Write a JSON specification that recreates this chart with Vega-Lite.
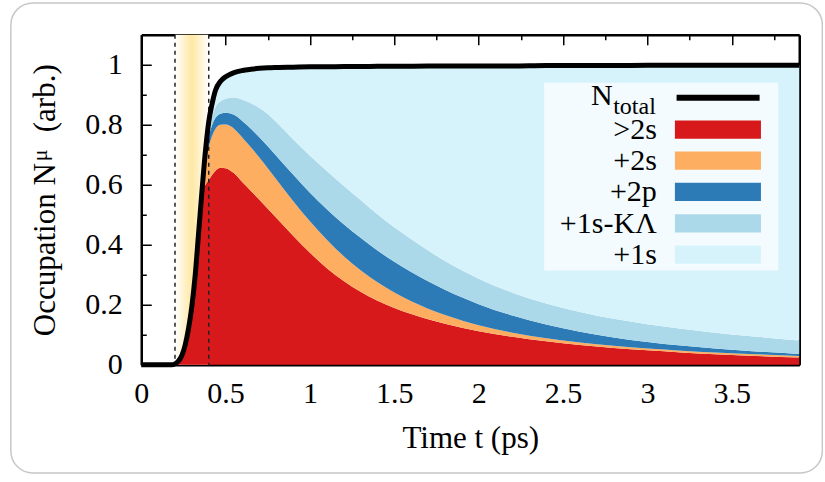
{
  "$schema": "https://vega.github.io/schema/vega-lite/v6.json",
  "width": 658,
  "height": 330,
  "padding": {"left": 9.25, "top": 1.75, "right": 0, "bottom": 0},
  "background": "white",
  "config": {
    "view": {"stroke": null},
    "font": "Liberation Serif",
    "axis": {
      "grid": false, "domainColor": "black", "domainWidth": 2.5,
      "tickColor": "black", "tickWidth": 1.5,
      "labelColor": "black", "titleColor": "black",
      "labelFont": "Liberation Serif", "titleFont": "Liberation Serif",
      "labelFontSize": 30, "titleFontSize": 31, "titleFontWeight": "normal",
      "labelOverlap": false, "labelFlush": false, "labelBound": false, "zindex": 1
    }
  },
  "datasets": {
    "occ": [
      {"t":0,"config":">2s","occ":0},{"t":0.18,"config":">2s","occ":0},{"t":0.2,"config":">2s","occ":0.003},{"t":0.22,"config":">2s","occ":0.012},{"t":0.24,"config":">2s","occ":0.03},{"t":0.26,"config":">2s","occ":0.065},{"t":0.28,"config":">2s","occ":0.12},{"t":0.3,"config":">2s","occ":0.195},{"t":0.32,"config":">2s","occ":0.3},{"t":0.34,"config":">2s","occ":0.44},{"t":0.36,"config":">2s","occ":0.575},{"t":0.38,"config":">2s","occ":0.6},{"t":0.4,"config":">2s","occ":0.615},{"t":0.42,"config":">2s","occ":0.633},{"t":0.44,"config":">2s","occ":0.647},{"t":0.47,"config":">2s","occ":0.657},{"t":0.5,"config":">2s","occ":0.655},{"t":0.55,"config":">2s","occ":0.638},{"t":0.6,"config":">2s","occ":0.608},{"t":0.65,"config":">2s","occ":0.579},{"t":0.7,"config":">2s","occ":0.55},{"t":0.75,"config":">2s","occ":0.52},{"t":0.8,"config":">2s","occ":0.49},{"t":0.9,"config":">2s","occ":0.43},{"t":1,"config":">2s","occ":0.373},{"t":1.1,"config":">2s","occ":0.322},{"t":1.2,"config":">2s","occ":0.279},{"t":1.3,"config":">2s","occ":0.243},{"t":1.4,"config":">2s","occ":0.213},{"t":1.5,"config":">2s","occ":0.189},{"t":1.6,"config":">2s","occ":0.169},{"t":1.8,"config":">2s","occ":0.137},{"t":2,"config":">2s","occ":0.112},{"t":2.2,"config":">2s","occ":0.093},{"t":2.4,"config":">2s","occ":0.078},{"t":2.6,"config":">2s","occ":0.066},{"t":2.8,"config":">2s","occ":0.056},{"t":3,"config":">2s","occ":0.048},{"t":3.2,"config":">2s","occ":0.041},{"t":3.4,"config":">2s","occ":0.035},{"t":3.6,"config":">2s","occ":0.03},{"t":3.9,"config":">2s","occ":0.024},
      {"t":0.34,"config":"+2s","occ":0},{"t":0.36,"config":"+2s","occ":0.003},{"t":0.38,"config":"+2s","occ":0.065},{"t":0.4,"config":"+2s","occ":0.11},{"t":0.42,"config":"+2s","occ":0.13},{"t":0.44,"config":"+2s","occ":0.14},{"t":0.47,"config":"+2s","occ":0.143},{"t":0.5,"config":"+2s","occ":0.146},{"t":0.55,"config":"+2s","occ":0.149},{"t":0.6,"config":"+2s","occ":0.149},{"t":0.65,"config":"+2s","occ":0.146},{"t":0.7,"config":"+2s","occ":0.141},{"t":0.75,"config":"+2s","occ":0.135},{"t":0.8,"config":"+2s","occ":0.128},{"t":0.9,"config":"+2s","occ":0.116},{"t":1,"config":"+2s","occ":0.105},{"t":1.1,"config":"+2s","occ":0.095},{"t":1.2,"config":"+2s","occ":0.083},{"t":1.3,"config":"+2s","occ":0.072},{"t":1.4,"config":"+2s","occ":0.062},{"t":1.5,"config":"+2s","occ":0.052},{"t":1.6,"config":"+2s","occ":0.043},{"t":1.8,"config":"+2s","occ":0.029},{"t":2,"config":"+2s","occ":0.02},{"t":2.2,"config":"+2s","occ":0.014},{"t":2.4,"config":"+2s","occ":0.01},{"t":2.6,"config":"+2s","occ":0.008},{"t":2.8,"config":"+2s","occ":0.007},{"t":3,"config":"+2s","occ":0.006},{"t":3.2,"config":"+2s","occ":0.006},{"t":3.4,"config":"+2s","occ":0.006},{"t":3.6,"config":"+2s","occ":0.006},{"t":3.9,"config":"+2s","occ":0.005},
      {"t":0.34,"config":"+2p","occ":0},{"t":0.36,"config":"+2p","occ":0.001},{"t":0.38,"config":"+2p","occ":0.025},{"t":0.4,"config":"+2p","occ":0.035},{"t":0.42,"config":"+2p","occ":0.036},{"t":0.44,"config":"+2p","occ":0.036},{"t":0.47,"config":"+2p","occ":0.037},{"t":0.5,"config":"+2p","occ":0.039},{"t":0.55,"config":"+2p","occ":0.046},{"t":0.6,"config":"+2p","occ":0.055},{"t":0.65,"config":"+2p","occ":0.062},{"t":0.7,"config":"+2p","occ":0.067},{"t":0.75,"config":"+2p","occ":0.073},{"t":0.8,"config":"+2p","occ":0.079},{"t":0.9,"config":"+2p","occ":0.088},{"t":1,"config":"+2p","occ":0.095},{"t":1.1,"config":"+2p","occ":0.101},{"t":1.2,"config":"+2p","occ":0.106},{"t":1.3,"config":"+2p","occ":0.108},{"t":1.4,"config":"+2p","occ":0.106},{"t":1.5,"config":"+2p","occ":0.102},{"t":1.6,"config":"+2p","occ":0.097},{"t":1.8,"config":"+2p","occ":0.084},{"t":2,"config":"+2p","occ":0.07},{"t":2.2,"config":"+2p","occ":0.057},{"t":2.4,"config":"+2p","occ":0.046},{"t":2.6,"config":"+2p","occ":0.036},{"t":2.8,"config":"+2p","occ":0.028},{"t":3,"config":"+2p","occ":0.022},{"t":3.2,"config":"+2p","occ":0.017},{"t":3.4,"config":"+2p","occ":0.013},{"t":3.6,"config":"+2p","occ":0.01},{"t":3.9,"config":"+2p","occ":0.007},
      {"t":0.34,"config":"+1s-KΛ","occ":0},{"t":0.36,"config":"+1s-KΛ","occ":0.001},{"t":0.38,"config":"+1s-KΛ","occ":0.01},{"t":0.4,"config":"+1s-KΛ","occ":0.025},{"t":0.42,"config":"+1s-KΛ","occ":0.03},{"t":0.44,"config":"+1s-KΛ","occ":0.036},{"t":0.47,"config":"+1s-KΛ","occ":0.041},{"t":0.5,"config":"+1s-KΛ","occ":0.047},{"t":0.55,"config":"+1s-KΛ","occ":0.058},{"t":0.6,"config":"+1s-KΛ","occ":0.071},{"t":0.65,"config":"+1s-KΛ","occ":0.085},{"t":0.7,"config":"+1s-KΛ","occ":0.098},{"t":0.75,"config":"+1s-KΛ","occ":0.108},{"t":0.8,"config":"+1s-KΛ","occ":0.112},{"t":0.9,"config":"+1s-KΛ","occ":0.118},{"t":1,"config":"+1s-KΛ","occ":0.124},{"t":1.1,"config":"+1s-KΛ","occ":0.128},{"t":1.2,"config":"+1s-KΛ","occ":0.129},{"t":1.3,"config":"+1s-KΛ","occ":0.126},{"t":1.4,"config":"+1s-KΛ","occ":0.121},{"t":1.5,"config":"+1s-KΛ","occ":0.115},{"t":1.6,"config":"+1s-KΛ","occ":0.109},{"t":1.8,"config":"+1s-KΛ","occ":0.096},{"t":2,"config":"+1s-KΛ","occ":0.085},{"t":2.2,"config":"+1s-KΛ","occ":0.076},{"t":2.4,"config":"+1s-KΛ","occ":0.07},{"t":2.6,"config":"+1s-KΛ","occ":0.066},{"t":2.8,"config":"+1s-KΛ","occ":0.062},{"t":3,"config":"+1s-KΛ","occ":0.059},{"t":3.2,"config":"+1s-KΛ","occ":0.056},{"t":3.4,"config":"+1s-KΛ","occ":0.053},{"t":3.6,"config":"+1s-KΛ","occ":0.05},{"t":3.9,"config":"+1s-KΛ","occ":0.045},
      {"t":0.34,"config":"+1s","occ":0},{"t":0.36,"config":"+1s","occ":0},{"t":0.38,"config":"+1s","occ":0.01},{"t":0.4,"config":"+1s","occ":0.025},{"t":0.42,"config":"+1s","occ":0.041},{"t":0.44,"config":"+1s","occ":0.056},{"t":0.47,"config":"+1s","occ":0.067},{"t":0.5,"config":"+1s","occ":0.073},{"t":0.55,"config":"+1s","occ":0.083},{"t":0.6,"config":"+1s","occ":0.098},{"t":0.65,"config":"+1s","occ":0.113},{"t":0.7,"config":"+1s","occ":0.132},{"t":0.75,"config":"+1s","occ":0.154},{"t":0.8,"config":"+1s","occ":0.182},{"t":0.9,"config":"+1s","occ":0.24},{"t":1,"config":"+1s","occ":0.296},{"t":1.1,"config":"+1s","occ":0.347},{"t":1.2,"config":"+1s","occ":0.397},{"t":1.3,"config":"+1s","occ":0.445},{"t":1.4,"config":"+1s","occ":0.493},{"t":1.5,"config":"+1s","occ":0.537},{"t":1.6,"config":"+1s","occ":0.577},{"t":1.8,"config":"+1s","occ":0.65},{"t":2,"config":"+1s","occ":0.709},{"t":2.2,"config":"+1s","occ":0.756},{"t":2.4,"config":"+1s","occ":0.7935},{"t":2.6,"config":"+1s","occ":0.8215},{"t":2.8,"config":"+1s","occ":0.8445},{"t":3,"config":"+1s","occ":0.863},{"t":3.2,"config":"+1s","occ":0.878},{"t":3.4,"config":"+1s","occ":0.891},{"t":3.6,"config":"+1s","occ":0.902},{"t":3.9,"config":"+1s","occ":0.917}
    ]
  },
  "layer": [
    {
      "data": {"values": [{}]},
      "mark": {"type": "rect", "fill": "white", "fillOpacity": 0, "stroke": "#c8c8c8", "strokeWidth": 1.5, "cornerRadius": 22, "clip": false},
      "encoding": {
        "x": {"datum": -0.7729, "type": "quantitative", "axis": null, "scale": {"domain": [0, 3.9], "nice": false, "zero": false}},
        "x2": {"datum": 4.0369},
        "y": {"datum": 1.206, "type": "quantitative", "axis": null, "scale": {"domain": [0, 1.1], "nice": false, "zero": false}},
        "y2": {"datum": -0.3607}
      }
    },
    {
      "data": {"values": [{}]},
      "mark": {"type": "rect", "fill": {"gradient": "linear", "x1": 0, "x2": 1, "y1": 0, "y2": 0, "stops": [{"offset": 0, "color": "#ffffff"}, {"offset": 0.5, "color": "#ffe8a3"}, {"offset": 1, "color": "#ffffff"}]}},
      "encoding": {
        "x": {"datum": 0.2, "type": "quantitative", "axis": null},
        "x2": {"datum": 0.4},
        "y": {"datum": 0, "type": "quantitative", "axis": null},
        "y2": {"datum": 1.1}
      }
    },
    {
      "data": {"name": "occ"},
      "mark": {"type": "area", "interpolate": "monotone"},
      "encoding": {
        "x": {"field": "t", "type": "quantitative", "scale": {"domain": [0, 3.9], "nice": false, "zero": false},
              "axis": {"orient": "bottom", "values": [0,0.25,0.5,0.75,1,1.25,1.5,1.75,2,2.25,2.5,2.75,3,3.25,3.5,3.75], "format": "~g",
                       "labelExpr": "round(datum.value*4)%2==0 ? datum.label : ''",
                       "tickSize": {"condition": {"test": "round(datum.value*4)%2==0", "value": -10}, "value": -5},
                       "labelPadding": 24, "labelDx": 4, "title": "Time t (ps)", "titlePadding": 10}},
        "y": {"field": "occ", "type": "quantitative", "stack": "zero", "scale": {"domain": [0, 1.1], "nice": false, "zero": false},
              "axis": {"orient": "left", "values": [0,0.1,0.2,0.3,0.4,0.5,0.6,0.7,0.8,0.9,1], "format": "~g",
                       "labelExpr": "round(datum.value*10)%2==0 ? datum.label : ''",
                       "tickSize": {"condition": {"test": "round(datum.value*10)%2==0", "value": -10}, "value": -5},
                       "labelPadding": 29, "title": "Occupation N\u00a0\u00a0\u00a0\u00a0(arb.)", "titlePadding": 23}},
        "color": {"field": "config", "type": "nominal", "legend": null,
                  "scale": {"domain": [">2s", "+2s", "+2p", "+1s-KΛ", "+1s"], "range": ["#d7191c", "#fdae61", "#2c7bb6", "#abd9e9", "#d6f3fc"]}},
        "order": {"field": "config", "sort": "descending"}
      }
    },
    {
      "data": {"values": [{"t": 0.2}, {"t": 0.4}]},
      "mark": {"type": "rule", "stroke": "#222222", "strokeWidth": 1.5, "strokeDash": [4, 4]},
      "encoding": {"x": {"field": "t", "type": "quantitative", "axis": null}}
    },
    {
      "data": {"name": "occ"},
      "mark": {"type": "line", "interpolate": "monotone", "stroke": "black", "strokeWidth": 5, "clip": false},
      "encoding": {
        "x": {"field": "t", "type": "quantitative",
              "axis": {"orient": "top", "values": [0,0.25,0.5,0.75,1,1.25,1.5,1.75,2,2.25,2.5,2.75,3,3.25,3.5,3.75], "labels": false, "title": null,
                       "tickSize": {"condition": {"test": "round(datum.value*4)%2==0", "value": -10}, "value": -5}}},
        "y": {"aggregate": "sum", "field": "occ", "type": "quantitative",
              "axis": {"orient": "right", "values": [0,0.1,0.2,0.3,0.4,0.5,0.6,0.7,0.8,0.9,1], "labels": false, "title": null,
                       "tickSize": {"condition": {"test": "round(datum.value*10)%2==0", "value": -10}, "value": -5}}}
      }
    },
    {
      "data": {"values": [{}]},
      "mark": {"type": "text", "text": "μ", "align": "center", "baseline": "alphabetic", "angle": 270, "fontSize": 22, "font": "Liberation Serif", "color": "black", "clip": false},
      "encoding": {"x": {"datum": -0.5595, "type": "quantitative", "axis": null}, "y": {"datum": 0.698, "type": "quantitative", "axis": null}}
    },
    {
      "data": {"values": [{}]},
      "mark": {"type": "rect", "fill": "#f3fbfe"},
      "encoding": {"x": {"datum": 2.388, "type": "quantitative", "axis": null}, "x2": {"datum": 3.775}, "y": {"datum": 0.3143, "type": "quantitative", "axis": null}, "y2": {"datum": 0.94}}
    },
    {
      "data": {"values": [{}]},
      "mark": {"type": "rule", "stroke": "black", "strokeWidth": 6},
      "encoding": {"x": {"datum": 3.173, "type": "quantitative", "axis": null}, "x2": {"datum": 3.665}, "y": {"datum": 0.89, "type": "quantitative", "axis": null}}
    },
    {
      "data": {"values": [{}]},
      "mark": {"type": "rect", "fill": "#d7191c"},
      "encoding": {"x": {"datum": 3.163, "type": "quantitative", "axis": null}, "x2": {"datum": 3.673}, "y": {"datum": 0.7532, "type": "quantitative", "axis": null}, "y2": {"datum": 0.8142}}
    },
    {
      "data": {"values": [{}]},
      "mark": {"type": "rect", "fill": "#fdae61"},
      "encoding": {"x": {"datum": 3.163, "type": "quantitative", "axis": null}, "x2": {"datum": 3.673}, "y": {"datum": 0.6498, "type": "quantitative", "axis": null}, "y2": {"datum": 0.7108}}
    },
    {
      "data": {"values": [{}]},
      "mark": {"type": "rect", "fill": "#2c7bb6"},
      "encoding": {"x": {"datum": 3.163, "type": "quantitative", "axis": null}, "x2": {"datum": 3.673}, "y": {"datum": 0.5455, "type": "quantitative", "axis": null}, "y2": {"datum": 0.6065}}
    },
    {
      "data": {"values": [{}]},
      "mark": {"type": "rect", "fill": "#abd9e9"},
      "encoding": {"x": {"datum": 3.163, "type": "quantitative", "axis": null}, "x2": {"datum": 3.673}, "y": {"datum": 0.4405, "type": "quantitative", "axis": null}, "y2": {"datum": 0.5015}}
    },
    {
      "data": {"values": [{}]},
      "mark": {"type": "rect", "fill": "#d6f3fc"},
      "encoding": {"x": {"datum": 3.163, "type": "quantitative", "axis": null}, "x2": {"datum": 3.673}, "y": {"datum": 0.3365, "type": "quantitative", "axis": null}, "y2": {"datum": 0.3975}}
    },
    {
      "data": {"values": [{}]},
      "mark": {"type": "text", "text": "N", "align": "right", "baseline": "alphabetic", "fontSize": 30, "font": "Liberation Serif", "color": "black"},
      "encoding": {"x": {"datum": 2.794, "type": "quantitative", "axis": null}, "y": {"datum": 0.865, "type": "quantitative", "axis": null}}
    },
    {
      "data": {"values": [{}]},
      "mark": {"type": "text", "text": "total", "align": "left", "baseline": "alphabetic", "fontSize": 24, "font": "Liberation Serif", "color": "black"},
      "encoding": {"x": {"datum": 2.797, "type": "quantitative", "axis": null}, "y": {"datum": 0.837, "type": "quantitative", "axis": null}}
    },
    {
      "data": {"values": [{}]},
      "mark": {"type": "text", "text": ">2s", "align": "right", "baseline": "alphabetic", "fontSize": 30, "font": "Liberation Serif", "color": "black"},
      "encoding": {"x": {"datum": 3.056, "type": "quantitative", "axis": null}, "y": {"datum": 0.7534, "type": "quantitative", "axis": null}}
    },
    {
      "data": {"values": [{}]},
      "mark": {"type": "text", "text": "+2s", "align": "right", "baseline": "alphabetic", "fontSize": 30, "font": "Liberation Serif", "color": "black"},
      "encoding": {"x": {"datum": 3.056, "type": "quantitative", "axis": null}, "y": {"datum": 0.65, "type": "quantitative", "axis": null}}
    },
    {
      "data": {"values": [{}]},
      "mark": {"type": "text", "text": "+2p", "align": "right", "baseline": "alphabetic", "fontSize": 30, "font": "Liberation Serif", "color": "black"},
      "encoding": {"x": {"datum": 3.056, "type": "quantitative", "axis": null}, "y": {"datum": 0.5457, "type": "quantitative", "axis": null}}
    },
    {
      "data": {"values": [{}]},
      "mark": {"type": "text", "text": "+1s-KΛ", "align": "right", "baseline": "alphabetic", "fontSize": 30, "font": "Liberation Serif", "color": "black"},
      "encoding": {"x": {"datum": 3.056, "type": "quantitative", "axis": null}, "y": {"datum": 0.4407, "type": "quantitative", "axis": null}}
    },
    {
      "data": {"values": [{}]},
      "mark": {"type": "text", "text": "+1s", "align": "right", "baseline": "alphabetic", "fontSize": 30, "font": "Liberation Serif", "color": "black"},
      "encoding": {"x": {"datum": 3.056, "type": "quantitative", "axis": null}, "y": {"datum": 0.3367, "type": "quantitative", "axis": null}}
    }
  ],
  "resolve": {"axis": {"x": "independent", "y": "independent"}}
}
